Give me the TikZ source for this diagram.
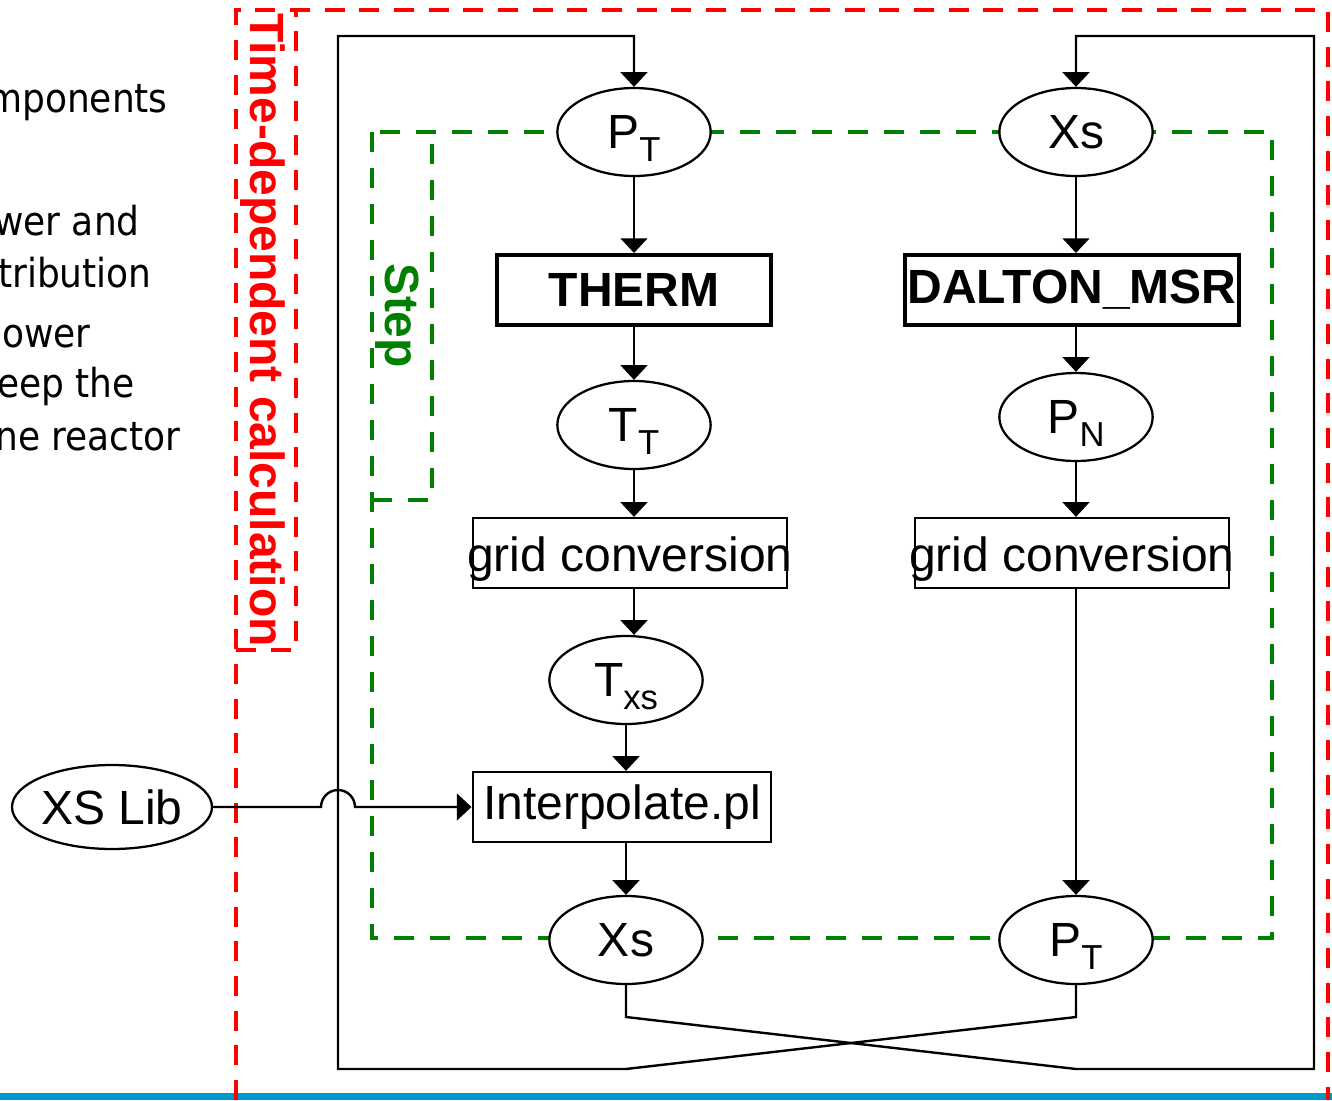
\documentclass[tikz,border=0pt]{standalone}
\usepackage{fontspec}
\setmainfont{Liberation Sans}
\newfontfamily\tahoma[FakeStretch=0.9]{DejaVu Sans}
\usetikzlibrary{arrows.meta,shapes.geometric,calc}
\newcommand\lowsub[1]{\raisebox{-10pt}[0pt][0pt]{\fontsize{26}{30}\selectfont #1}}
\definecolor{dgreen}{RGB}{0,128,0}
\definecolor{barblue}{RGB}{0,153,204}
\begin{document}
\begin{tikzpicture}[x=0.75pt,y=-0.75pt,
  every node/.style={font=\fontsize{36}{42}\selectfont},
  ell/.style={ellipse,draw,fill=white,line width=1.7pt,minimum width=115pt,minimum height=66pt,inner sep=0pt},
  box/.style={rectangle,draw,fill=white,line width=1.7pt,minimum height=52.5pt,inner sep=0pt},
  bbox/.style={box,line width=3pt,font=\bfseries\fontsize{36}{42}\selectfont},
  arr/.style={line width=1.8pt,-{Triangle[width=20pt,length=11pt]}},
  reddash/.style={draw=red,line width=3pt,dash pattern=on 15pt off 11pt},
  greendash/.style={draw=dgreen,line width=3pt,dash pattern=on 15pt off 12pt},
  lefttext/.style={anchor=base east,inner sep=0pt,font=\tahoma\fontsize{30}{36}\selectfont}]
\useasboundingbox (0,0) rectangle (1332,1100);
\fill[white] (0,0) rectangle (1332,1100);
\fill[barblue] (0,1093) rectangle (1332,1100);

% left partial text
\node[lefttext] (t1) at (168,112) {mponents};
\node[lefttext] (t2) at (140,235) {wer and};
\node[lefttext] (t3) at (152,287) {tribution};
\node[lefttext] (t4) at (91,347) {ower};
\node[lefttext] (t5) at (135,397) {eep the};
\node[lefttext] (t6) at (181,450) {ne reactor};

% red dashed frames
\draw[reddash] (236,1100) -- (236,10) -- (1328,10) -- (1328,1100);
\draw[reddash] (236,650) -- (296,650) -- (296,10);
\node[rotate=-90,text=red,font=\bfseries\fontsize{36}{42}\selectfont,inner sep=0pt] (tdc) at (263,330) {Time-dependent calculation};

% green dashed frames
\draw[greendash] (372,132) rectangle (1272,938);
\draw[greendash] (372,500) -- (432,500) -- (432,132);
\node[rotate=-90,text=dgreen,font=\bfseries\fontsize{36}{42}\selectfont,inner sep=0pt] (steplbl) at (397,316) {Step};

% loop bend points
\coordinate (lb1) at (1076,1017);
\coordinate (lb2) at (626,1069);
\coordinate (lb3) at (338,1069);
\coordinate (lb4) at (338,36);
\coordinate (lb5) at (634,36);
\coordinate (rb1) at (626,1017);
\coordinate (rb2) at (1076,1069);
\coordinate (rb3) at (1314,1069);
\coordinate (rb4) at (1314,36);
\coordinate (rb5) at (1076,36);

% nodes
\node[ell] (PT1) at (634,132) {P\lowsub{T}};
\node[ell] (XS1) at (1076,132) {Xs};
\node[bbox,minimum width=205pt] (therm) at (634,290) {THERM};
\node[bbox,minimum width=250pt] (dalton) at (1072,290) {\makebox[0pt]{DALTON\_MSR}};
\node[ell] (TT) at (634,425) {T\lowsub{T}};
\node[ell] (PN) at (1076,417) {P\lowsub{N}};
\node[box,minimum width=236pt] (gridL) at (630,553) {\raisebox{0pt}[28pt][0pt]{\makebox[0pt]{grid conversion}}};
\node[box,minimum width=236pt] (gridR) at (1072,553) {\raisebox{0pt}[28pt][0pt]{\makebox[0pt]{grid conversion}}};
\node[ell] (Txs) at (626,680) {T\lowsub{xs}};
\node[box,minimum width=224pt] (interp) at (622,807) {Interpolate.pl};
\node[ell,minimum width=147pt,minimum height=63pt] (xslib) at (112,807) {XS Lib};
\node[ell] (XS2) at (626,940) {Xs};
\node[ell] (PT2) at (1076,940) {P\lowsub{T}};

% connectors
\draw[arr] (PT1.south) -- (therm.north);
\draw[arr] (therm.south) -- (TT.north);
\draw[arr] (TT.south) -- (gridL.north -| TT.south);
\draw[arr] (gridL.south -| TT.south) -- (Txs.north -| TT.south);
\draw[arr] (Txs.south) -- (interp.north -| Txs.south);
\draw[arr] (interp.south -| XS2.north) -- (XS2.north);
\draw[arr] (XS1.south) -- (dalton.north -| XS1.south);
\draw[arr] (dalton.south -| PN.north) -- (PN.north);
\draw[arr] (PN.south) -- (gridR.north -| PN.south);
\draw[arr] (gridR.south -| PT2.north) -- (PT2.north);
\draw[arr] (xslib.east) -- (321,807) arc[start angle=180,end angle=0,radius=12.75pt] -- (interp.west);
\draw[arr] (PT2.south) -- (lb1) -- (lb2) -- (lb3) -- (lb4) -- (lb5) -- (PT1.north);
\draw[arr] (XS2.south) -- (rb1) -- (rb2) -- (rb3) -- (rb4) -- (rb5) -- (XS1.north);
\end{tikzpicture}
\end{document}
